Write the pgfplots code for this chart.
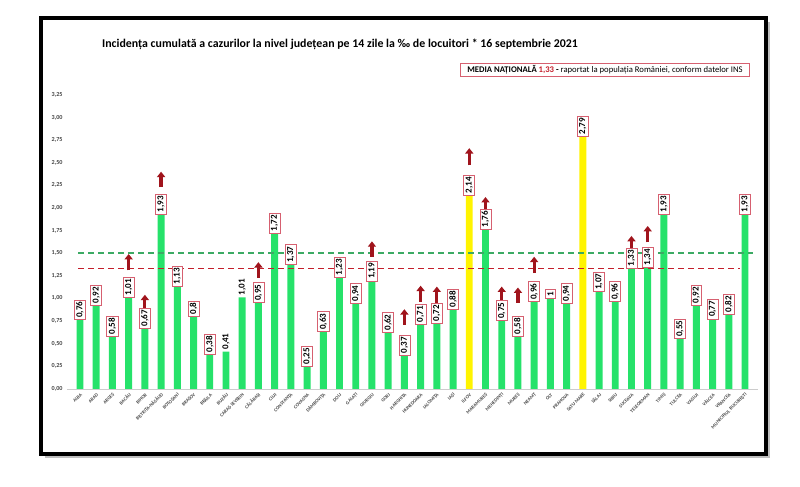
\documentclass[border=0pt]{standalone}
\usepackage{pgfplots}
\pgfplotsset{compat=1.18}
\usepackage{pgfplotstable}
\usepackage{fontspec}
\setmainfont{Carlito}
\usetikzlibrary{arrows.meta}
\definecolor{bargreen}{RGB}{38,226,106}
\definecolor{baryellow}{RGB}{255,244,0}
\definecolor{boxred}{RGB}{214,96,112}
\definecolor{arrowred}{RGB}{160,20,28}
\definecolor{lgreen}{RGB}{60,170,100}
\definecolor{lred}{RGB}{196,30,42}
\definecolor{tickgray}{RGB}{70,70,70}

\pgfplotstableread{
x y b
0 0.76 1
1 0.92 1
2 0.58 1
3 1.01 1
4 0.67 1
5 1.93 1
6 1.13 1
7 0.80 1
8 0.38 1
9 0.41 0
10 1.01 0
11 0.95 1
12 1.72 1
13 1.37 1
14 0.25 1
15 0.63 1
16 1.23 1
17 0.94 1
18 1.19 1
19 0.62 1
20 0.37 1
21 0.71 1
22 0.72 1
23 0.88 1
25 1.76 1
26 0.75 1
27 0.58 1
28 0.96 1
29 1.00 1
30 0.94 1
32 1.07 1
33 0.96 1
34 1.33 1
35 1.34 1
36 1.93 1
37 0.55 1
38 0.92 1
39 0.77 1
40 0.82 1
41 1.93 1
}\greendata

\pgfplotstableread{
x y b
24 2.14 1
31 2.79 1
}\yellowdata

\pgfplotstableread{
x y v
3 1.31 0.18
4 0.87 0.17
5 2.23 0.17
11 1.23 0.17
18 1.46 0.17
20 0.71 0.17
21 0.96 0.18
22 0.95 0.18
24 2.47 0.19
25 1.94 0.18
26 0.95 0.18
27 0.95 0.17
28 1.28 0.18
34 1.51 0.18
35 1.62 0.18
}\arrowdata

\pgfplotsset{
  barlabels/.style={
    nodes near coords,
    visualization depends on={\thisrow{b}\as\boxop},
    nodes near coords style={/pgf/number format/.cd,precision=2,use comma,
      /tikz/.cd, rotate=90, anchor=west, draw=boxred, draw opacity=\boxop, fill=white,
      line width=0.5pt, inner sep=1.4pt, font=\bfseries\fontsize{6.8}{7}\selectfont, text=black},
  }
}

\begin{document}
\begin{tikzpicture}
\begin{axis}[
  set layers,
  scale only axis, width=518.2pt, height=220.5pt,
  xmin=-0.8, xmax=41.8, ymin=0, ymax=3.25,
  clip=false,
  axis lines=left,
  axis line style={-},
  y axis line style={draw=none},
  x axis line style={draw=black!20},
  tick style={draw=none},
  ytick={0,0.25,...,3.26},
  /pgf/number format/assume math mode=true,
  yticklabel style={/pgf/number format/.cd,fixed,fixed zerofill,precision=2,use comma,
    /tikz/.cd, font=\bfseries\fontsize{4.6}{5}\selectfont, text=tickgray, inner sep=1pt},
  xtick={0,...,41},
  xticklabels={ALBA,ARAD,ARGEȘ,BACĂU,BIHOR,BISTRIȚA-NĂSĂUD,BOTOȘANI,BRAȘOV,BRĂILA,BUZĂU,CARAȘ-SEVERIN,CĂLĂRAȘI,CLUJ,CONSTANȚA,COVASNA,DÂMBOVIȚA,DOLJ,GALAȚI,GIURGIU,GORJ,HARGHITA,HUNEDOARA,IALOMIȚA,IAȘI,ILFOV,MARAMUREȘ,MEHEDINȚI,MUREȘ,NEAMȚ,OLT,PRAHOVA,SATU MARE,SĂLAJ,SIBIU,SUCEAVA,TELEORMAN,TIMIȘ,TULCEA,VASLUI,VÂLCEA,VRANCEA,MUNICIPIUL BUCUREȘTI},
  xticklabel style={rotate=45, anchor=east, font=\bfseries\fontsize{3.6}{4}\selectfont,
    text=tickgray, inner sep=0.5pt, yshift=-2pt},
]
% frame, shadow (behind everything)
\begin{pgfonlayer}{axis background}
\fill[black!25] (axis cs:-2.158,4.055) rectangle (axis cs:42.54,-0.762);
\draw[line width=3pt, fill=white] (axis cs:-2.404,4.099) rectangle (axis cs:42.29,-0.718);
\end{pgfonlayer}
\coordinate (bbsw) at (axis cs:-4.932,-1.083);
\coordinate (bbne) at (axis cs:44.39,4.298);
% title and note
\node[font=\bfseries\fontsize{8.9}{10}\selectfont] at (axis cs:16.03,3.812)
  {Incidența cumulată a cazurilor la nivel județean pe 14 zile la ‰ de locuitori * 16 septembrie 2021};
\node[draw=boxred,line width=0.6pt,minimum width=217pt,minimum height=9.8pt,inner sep=1pt,fill=white,
  font=\fontsize{6.5}{7}\selectfont] at (axis cs:32.37,3.530)
  {\textbf{MEDIA NAȚIONALĂ} \textcolor{lred}{\textbf{1,33}} \textbf{-} raportat la populația României, conform datelor INS};

\addplot[ybar, bar shift=0pt, bar width=5.2pt, fill=bargreen, draw=none, barlabels] table[x=x,y=y] {\greendata};
\addplot[ybar, bar shift=0pt, bar width=5.2pt, fill=baryellow, draw=none, barlabels] table[x=x,y=y] {\yellowdata};
\addplot[sharp plot, no markers, lgreen, line width=1.1pt, dash pattern=on 4.5pt off 3pt]
  coordinates {(-0.12,1.5) (41.5,1.5)};
\addplot[sharp plot, no markers, lred, line width=1.2pt, dash pattern=on 4.5pt off 3pt]
  coordinates {(-0.12,1.33) (40.7,1.33)};
\addplot[no markers, arrowred, line width=2.4pt,
  quiver={u=0, v=\thisrow{v}}, -{Triangle[width=6pt,length=4pt]}]
  table[x=x,y=y] {\arrowdata};
\end{axis}
\pgfresetboundingbox
\path[use as bounding box] (bbsw) rectangle (bbne);
\end{tikzpicture}
\end{document}
